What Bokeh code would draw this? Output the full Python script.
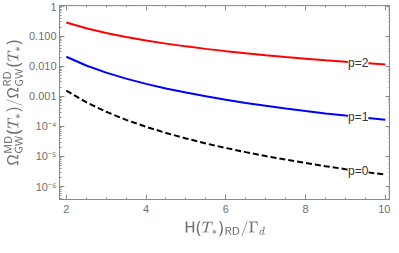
import numpy as np
from bokeh.plotting import figure
from bokeh.core.properties import value
from bokeh.models import (ColumnDataSource, LabelSet, LinearAxis, LogAxis, Span,
                          SingleIntervalTicker, LogTicker, CustomJSTickFormatter, Range1d)
from bokeh.embed import file_html
from bokeh.resources import INLINE

# ---- data ----
x = [2.0, 2.5, 3.0, 3.5, 4.0, 4.5, 5.0, 5.5, 6.0, 6.5, 7.0, 7.5, 8.0, 8.5, 9.0, 9.5, 10.0]
p2 = [0.286, 0.183, 0.127, 0.0934, 0.0715, 0.0565, 0.0458, 0.0378, 0.0318, 0.0271,
      0.0233, 0.0203, 0.0179, 0.0158, 0.0141, 0.0127, 0.0114]
p1 = [0.0207, 0.0106, 0.00615, 0.00387, 0.00259, 0.00182, 0.00133, 0.000998, 0.000769,
      0.000604, 0.000484, 0.000393, 0.000324, 0.000270, 0.000228, 0.000194, 0.000166]
p0 = [0.00155, 0.000635, 0.000306, 0.000165, 9.69e-5, 6.05e-5, 3.97e-5, 2.71e-5, 1.91e-5,
      1.39e-5, 1.03e-5, 7.84e-6, 6.05e-6, 4.75e-6, 3.78e-6, 3.04e-6, 2.48e-6]
series_labels = ["p=2", "p=1", "p=0"]
label_x = 9.32
y_tick_values = [1, 0.1, 0.01, 0.001, 1e-4, 1e-5, 1e-6]
y_tick_labels = ["1", "0.100", "0.010", "0.001", "10\u207b\u2074", "10\u207b\u2075", "10\u207b\u2076"]
ref_lines = [1]

GRAY = "#8a8a8a"
LBL = "#707070"
FONT = "Liberation Sans"

p = figure(frame_width=331, frame_height=194, output_backend="svg", toolbar_location=None,
           y_axis_type="log",
           x_range=Range1d(1.83, 10.13), y_range=Range1d(10 ** -6.432, 10 ** 0.02),
           min_border_left=52, min_border_right=0, min_border_top=5, min_border_bottom=38)
p.grid.visible = False
p.background_fill_color = "white"
p.border_fill_color = "white"
p.outline_line_color = GRAY

for v in ref_lines:
    p.add_layout(Span(location=v, dimension="width", line_color="#c8c8c8",
                      line_dash="1 2", line_width=1))

p.line(x, p2, line_color="#ff0000", line_width=2)
p.line(x, p1, line_color="#0000ff", line_width=2)
p.line(x, p0, line_color="black", line_width=2, line_dash="6 3")

lab_y = [10 ** np.interp(label_x, x, np.log10(s)) for s in (p2, p1, p0)]
src = ColumnDataSource(dict(x=[label_x] * 3, y=lab_y, t=series_labels))
p.add_layout(LabelSet(x="x", y="y", text="t", source=src, text_align="center",
                      text_baseline="middle", text_font=value(FONT),
                      text_font_size=value("12px"),
                      text_color="#333333", background_fill_color="white"))

yfmt = CustomJSTickFormatter(args=dict(vals=y_tick_values, labs=y_tick_labels), code="""
for (let i = 0; i < vals.length; i++) {
  if (Math.abs(Math.log10(tick) - Math.log10(vals[i])) < 1e-6) return labs[i];
}
return '';
""")
empty = CustomJSTickFormatter(code="return '';")


def style(ax, labels=True):
    ax.axis_line_color = GRAY
    ax.major_tick_line_color = GRAY
    ax.minor_tick_line_color = GRAY
    ax.major_tick_in = 5
    ax.major_tick_out = 0
    ax.minor_tick_in = 2
    ax.minor_tick_out = 0
    ax.major_label_text_color = LBL
    ax.major_label_text_font = FONT
    ax.major_label_text_font_size = "11px"
    ax.axis_label_text_color = LBL
    ax.axis_label_text_font_style = "normal"
    if not labels:
        ax.major_label_standoff = 0
        ax.axis_label_standoff = 0
        ax.major_label_text_font_size = "1px"
        ax.axis_label_text_font_size = "1px"


xt = SingleIntervalTicker(interval=2, num_minor_ticks=4)
p.xaxis.ticker = xt
style(p.xaxis[0])
p.xaxis.major_label_standoff = 5
p.xaxis.axis_label = r"$$\mathsf{H(}T_*\mathsf{)_{RD}/}\Gamma_d$$"
p.xaxis.axis_label_text_font_size = "12px"
p.xaxis.axis_label_standoff = 5

p.yaxis.ticker = LogTicker(num_minor_ticks=10)
p.yaxis.formatter = yfmt
style(p.yaxis[0])
p.yaxis.major_label_standoff = 3
p.yaxis.axis_label = r"$$\mathsf{\Omega}^{\mathsf{MD}}_{\mathsf{GW}}\mathsf{(}T_*\mathsf{)/\Omega}^{\mathsf{RD}}_{\mathsf{GW}}\mathsf{(}T_*\mathsf{)}$$"
p.yaxis.axis_label_text_font_size = "12px"
p.yaxis.axis_label_standoff = 3

top = LinearAxis(ticker=SingleIntervalTicker(interval=2, num_minor_ticks=4), formatter=empty)
style(top, labels=False)
p.add_layout(top, "above")
right = LogAxis(ticker=LogTicker(num_minor_ticks=10), formatter=empty)
style(right, labels=False)
p.add_layout(right, "right")

open("out.html", "w").write(file_html(p, INLINE))
